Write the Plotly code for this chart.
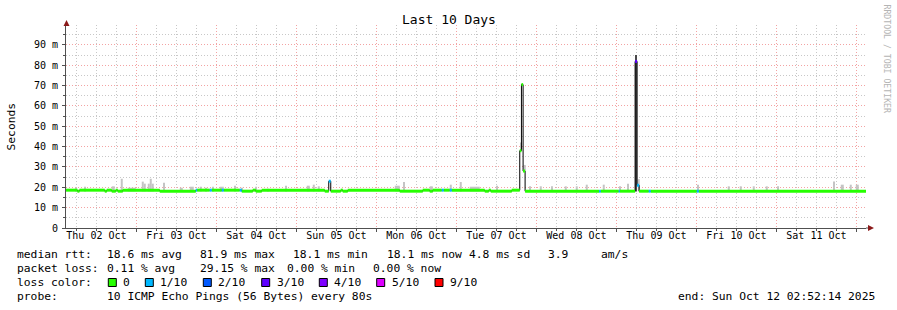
import pandas as pd
import plotly.graph_objects as go

# ---------------- data ----------------
DAY0 = pd.Timestamp("2025-10-02 00:00:00")
START = pd.Timestamp("2025-10-02 02:52:14")
END = pd.Timestamp("2025-10-12 02:52:14")

# median rtt as runs: start (hours after Thu 02 Oct 00:00), value (ms), loss level
run_start_h = [2.8706, 6.3, 6.9, 14.5, 15.1, 16.6, 17.8, 18.4, 19.9, 31.0,
               41.8, 42.2, 46.0, 46.6, 49.6, 50.2, 55.0, 55.6, 58.9, 59.8,
               61.6, 80.5, 81.7, 82.3, 85.3, 85.9, 87.4, 103.0, 109.9, 112.0,
               112.9, 115.6, 116.2, 118.0, 118.6, 128.5, 129.7, 130.3, 136.6, 139.0,
               139.5, 140.0, 140.6, 162.8, 163.3, 168.7, 169.0, 173.6, 174.2, 174.8,
               177.7, 178.3, 192.1, 192.7]
run_ms = [18.6, 18.1, 18.6, 18.1, 18.6, 18.1, 18.6, 18.1, 18.6, 18.1,
          18.6, 18.6, 18.6, 18.6, 18.6, 18.6, 18.6, 18.1, 18.6, 18.1,
          18.6, 18.1, 23.0, 18.1, 18.6, 18.1, 18.6, 18.1, 18.6, 18.1,
          18.6, 18.6, 18.6, 18.6, 18.6, 18.1, 18.6, 18.1, 18.6, 38.0,
          70.5, 28.0, 18.1, 18.1, 18.1, 18.1, 18.1, 81.9, 21.0, 18.1,
          18.1, 18.1, 18.1, 18.1]
run_loss = [0, 0, 0, 0, 0, 0, 0, 0, 0, 0,
            1, 0, 1, 0, 1, 0, 1, 0, 0, 0,
            0, 0, 1, 0, 0, 0, 0, 0, 0, 0,
            0, 1, 0, 1, 0, 0, 0, 0, 0, 0,
            0, 0, 0, 1, 0, 1, 0, 3, 1, 0,
            1, 0, 1, 0]

# smoke (ping spread) columns: start/end hours, low/high ms
smoke_start_h = [5.8, 8.5, 16.6, 19.3, 21.4, 25.6, 26.2, 27.4, 28.0, 28.6,
                 32.2, 37.0, 40.0, 43.0, 44.8, 46.9, 49.0, 53.5, 55.6, 59.8,
                 63.4, 68.8, 75.1, 76.9, 78.4, 101.5, 104.2, 112.0, 118.0, 121.0,
                 124.0, 132.1, 139.3, 140.2, 142.0, 145.0, 148.6, 152.5, 155.8, 158.8,
                 163.9, 169.0, 171.4, 174.4, 192.4, 201.4, 205.0, 208.9, 212.8, 216.4,
                 233.2, 235.3, 238.0, 239.8]
smoke_end_h = [6.1, 8.8, 17.5, 19.9, 23.8, 26.2, 26.8, 28.0, 28.6, 29.2,
               32.5, 37.9, 41.2, 43.6, 45.1, 47.2, 50.2, 53.8, 55.9, 60.1,
               63.7, 69.1, 76.0, 77.5, 79.0, 103.0, 104.5, 112.9, 118.6, 121.6,
               127.0, 132.4, 139.6, 140.8, 142.3, 145.6, 148.9, 153.1, 156.4, 159.4,
               164.5, 169.3, 171.7, 175.0, 192.7, 202.0, 205.6, 209.5, 213.4, 216.7,
               233.5, 236.2, 238.6, 240.7]
smoke_low_ms = [18.0] * 32 + [38.0, 28.0] + [18.0] * 20
smoke_high_ms = [19.8, 20.3, 20.5, 24.2, 19.8, 22.8, 21.8, 21.8, 24.2, 21.8,
                 22.3, 19.8, 20.3, 20.3, 19.8, 20.3, 20.3, 20.8, 19.8, 20.3,
                 19.3, 20.8, 20.8, 21.3, 20.5, 20.8, 22.6, 20.5, 21.3, 22.6,
                 20.3, 20.8, 42.0, 31.0, 20.5, 20.5, 20.5, 20.5, 20.5, 21.3,
                 21.3, 20.5, 21.8, 24.0, 21.3, 20.5, 20.5, 20.5, 20.5, 20.5,
                 22.9, 21.3, 21.3, 21.3]
# dense smoke column under the big spike
dense_start_h = [173.8]
dense_end_h = [174.1]
dense_low_ms = [18.0]
dense_high_ms = [85.0]

day_labels = ["Thu 02 Oct", "Fri 03 Oct", "Sat 04 Oct", "Sun 05 Oct", "Mon 06 Oct",
              "Tue 07 Oct", "Wed 08 Oct", "Thu 09 Oct", "Fri 10 Oct", "Sat 11 Oct"]
y_ticks = [0, 10, 20, 30, 40, 50, 60, 70, 80, 90]
y_tick_text = ["0", "10 m", "20 m", "30 m", "40 m", "50 m", "60 m", "70 m", "80 m", "90 m"]
y_minor = [5, 15, 25, 35, 45, 55, 65, 75, 85, 95]

loss_labels = ["0", "1/10", "2/10", "3/10", "4/10", "5/10", "9/10"]
loss_colors = ["#26ff00", "#00b8ff", "#0059ff", "#5e00ff", "#7e00ff", "#dd00ff", "#ff0000"]

rtt_items = ["18.6 ms avg", "81.9 ms max", "18.1 ms min", "18.1 ms now", "4.8 ms sd", "3.9", "am/s"]
loss_items = ["0.11 % avg", "29.15 % max", "0.00 % min", "0.00 % now"]
probe_text = "10 ICMP Echo Pings (56 Bytes) every 80s"
end_text = "end: Sun Oct 12 02:52:14 2025"

# ---------------- geometry ----------------
W, H = 897, 310
L, R, T, B = 66, 31, 25, 82
PW, PH = W - L - R, H - T - B
MONO = "DejaVu Sans Mono"
FS = 11.3


def px(x):
    return (x - L) / PW


def py(y):
    return (H - B - y) / PH


def ts(h):
    return DAY0 + pd.Timedelta(hours=h)


fig = go.Figure()

# smoke
sx = [ts((a + b) / 2) for a, b in zip(smoke_start_h, smoke_end_h)]
sw = [(b - a) * 3600 * 1000 for a, b in zip(smoke_start_h, smoke_end_h)]
fig.add_trace(go.Bar(x=sx, width=sw, base=smoke_low_ms,
                     y=[h - l for h, l in zip(smoke_high_ms, smoke_low_ms)],
                     marker=dict(color="#c4c4c4", line=dict(width=0)),
                     hoverinfo="skip", showlegend=False))
dx = [ts((a + b) / 2) for a, b in zip(dense_start_h, dense_end_h)]
dw = [(b - a) * 3600 * 1000 for a, b in zip(dense_start_h, dense_end_h)]
fig.add_trace(go.Bar(x=dx, width=dw, base=dense_low_ms,
                     y=[h - l for h, l in zip(dense_high_ms, dense_low_ms)],
                     marker=dict(color="#4a4a4a", line=dict(width=0)),
                     hoverinfo="skip", showlegend=False))

# black median step line
ends_h = run_start_h[1:] + [(END - DAY0) / pd.Timedelta(hours=1)]
line_x = [ts(h) for h in run_start_h] + [END]
line_y = run_ms + [run_ms[-1]]
fig.add_trace(go.Scatter(x=line_x, y=line_y, mode="lines", line_shape="hv",
                         line=dict(color="#000000", width=1), hoverinfo="skip", showlegend=False))

# loss-coloured median band: horizontal segments per loss level
for lvl in sorted(set(run_loss)):
    xs, ys = [], []
    for a, b, v, k in zip(run_start_h, ends_h, run_ms, run_loss):
        if k == lvl:
            xs += [ts(a), ts(b), None]
            ys += [v, v, None]
    fig.add_trace(go.Scatter(x=xs, y=ys, mode="lines", connectgaps=False,
                             line=dict(color=loss_colors[lvl], width=3),
                             hoverinfo="skip", showlegend=False))

# dummy trace for label axis
fig.add_trace(go.Scatter(x=[START], y=[None], xaxis="x2", mode="lines", hoverinfo="skip", showlegend=False))

ndays = 10
midnights = [pd.Timestamp("2025-10-03") + pd.Timedelta(days=i) for i in range(ndays)]
noons = [pd.Timestamp("2025-10-02 12:00") + pd.Timedelta(days=i) for i in range(ndays)]
six_h = [pd.Timestamp("2025-10-02 06:00") + pd.Timedelta(hours=6 * i) for i in range(40)]
six_h = [t for t in six_h if t.hour != 0 and START < t < END]

GRID_RED = "#f3a3a3"
GRID_GRAY = "#c8c8c8"
DASH = "1px,2px"
AXIS = "#505050"

fig.update_layout(
    width=W, height=H, autosize=False,
    margin=dict(l=L, r=R, t=T, b=B, pad=0),
    paper_bgcolor="white", plot_bgcolor="white",
    barmode="overlay", showlegend=False,
    font=dict(family=MONO, size=FS, color="black"),
    xaxis=dict(type="date", range=[START, END], tickmode="array", tickvals=midnights,
               showticklabels=False, showgrid=True, gridcolor=GRID_RED, griddash=DASH, gridwidth=1,
               ticks="outside", ticklen=3, tickcolor=AXIS, showline=True, linecolor=AXIS,
               linewidth=1, zeroline=False,
               minor=dict(tickmode="array", tickvals=six_h, showgrid=True, gridcolor=GRID_GRAY,
                          griddash=DASH, gridwidth=1, ticks="outside", ticklen=2, tickcolor=AXIS)),
    xaxis2=dict(type="date", range=[START, END], overlaying="x", side="bottom", anchor="y",
                tickmode="array", tickvals=noons, ticktext=day_labels, showgrid=False,
                ticks="", showline=False, zeroline=False,
                tickfont=dict(family=MONO, size=10, color="black")),
    yaxis=dict(range=[0, 99.8], tickmode="array", tickvals=y_ticks, ticktext=y_tick_text,
               showgrid=True, gridcolor=GRID_RED, griddash=DASH, gridwidth=1,
               ticks="outside", ticklen=3, tickcolor=AXIS, showline=True, linecolor=AXIS,
               linewidth=1, zeroline=False, ticklabelstandoff=2,
               tickfont=dict(family=MONO, size=10, color="black"),
               minor=dict(tickmode="array", tickvals=y_minor, showgrid=True, gridcolor=GRID_GRAY,
                          griddash=DASH, gridwidth=1, ticks="outside", ticklen=2, tickcolor=AXIS)),
)

ann = []


def text(x, y, s, size=FS, color="black", angle=0, xanchor="left"):
    ann.append(dict(x=px(x), y=py(y), xref="paper", yref="paper", text=s, showarrow=False,
                    xanchor=xanchor, yanchor="middle", textangle=angle, borderpad=0, borderwidth=0,
                    font=dict(family=MONO, size=size, color=color)))


text(448.5, 19, "Last 10 Days", size=13, xanchor="center")
text(11, 126.5, "Seconds", angle=-90, xanchor="center")
text(886.5, 59, "RRDTOOL / TOBI OETIKER", size=8.2, color="#b4b4b4", angle=90, xanchor="center")

row_y = [254.5, 268.5, 282.5, 296.5]
text(16.7, row_y[0], "median rtt:")
for xx, s in zip([107.3, 200.3, 293.3, 386.7, 469.3, 548.3, 601], rtt_items):
    text(xx, row_y[0], s)
text(16.7, row_y[1], "packet loss:")
for xx, s in zip([107.3, 200, 286.7, 372.7], loss_items):
    text(xx, row_y[1], s)
text(16.7, row_y[2], "loss color:")
sq_x = [108.3, 145.3, 203.3, 261.7, 319.3, 376.7, 435]
shapes = []
for xx, lab, col in zip(sq_x, loss_labels, loss_colors):
    shapes.append(dict(type="rect", xref="paper", yref="paper", x0=px(xx), x1=px(xx + 8),
                       y0=py(row_y[2] + 4), y1=py(row_y[2] - 4), fillcolor=col,
                       line=dict(color="#000000", width=1)))
    text(xx + 15, row_y[2], lab)
text(16.7, row_y[3], "probe:")
text(107.3, row_y[3], probe_text)
text(678.3, row_y[3], end_text)

# axis extensions and arrows
ARROW = "#8b1a1a"
shapes.append(dict(type="line", xref="paper", yref="paper", x0=0, x1=0, y0=1, y1=py(23),
                   line=dict(color=AXIS, width=1)))
shapes.append(dict(type="line", xref="paper", yref="paper", x0=1, x1=px(870), y0=0, y1=0,
                   line=dict(color=AXIS, width=1)))
shapes.append(dict(type="path", xref="paper", yref="paper",
                   path=f"M {px(63.5)} {py(26)} L {px(69.5)} {py(26)} L {px(66.5)} {py(20)} Z",
                   fillcolor=ARROW, line=dict(color=ARROW, width=0)))
shapes.append(dict(type="path", xref="paper", yref="paper",
                   path=f"M {px(868)} {py(225)} L {px(868)} {py(231)} L {px(874)} {py(228)} Z",
                   fillcolor=ARROW, line=dict(color=ARROW, width=0)))

fig.update_layout(annotations=ann, shapes=shapes)
fig.write_html("out.html")
